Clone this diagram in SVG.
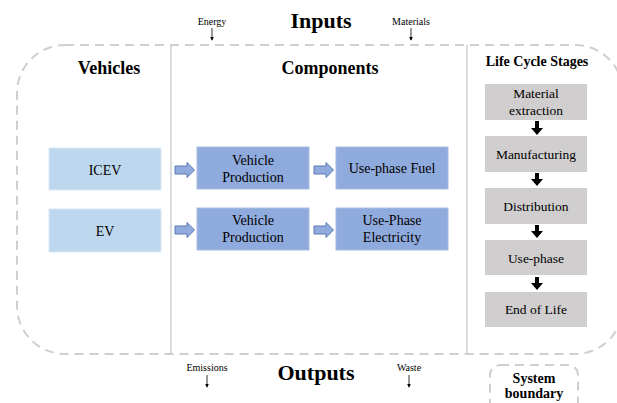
<svg xmlns="http://www.w3.org/2000/svg" width="617" height="403" viewBox="0 0 617 403">
<defs>
<style>
text{font-family:"Liberation Serif","Times New Roman",serif;fill:#000;text-anchor:middle}
.h1{font-size:22px;font-weight:bold}
.h2{font-size:18px;font-weight:bold}
.h3{font-size:14px;font-weight:bold}
.sm{font-size:10px}
.t{font-size:14px}
.t13{font-size:13.5px}
.veh{fill:#bdd7ee;stroke:#dbe7f5;stroke-width:1}
.comp{fill:#8faadc;stroke:#a9bde4;stroke-width:1}
.lcs{fill:#d0cece}
.barrow{fill:#8faadc;stroke:#5a78b0;stroke-width:1}
.karrow{fill:#000}
.thin{stroke:#000;stroke-width:0.8;fill:none}
.dash{fill:none;stroke:#cfcfcf;stroke-width:2;stroke-dasharray:9 6}
.div{stroke:#cfcfcf;stroke-width:1.5}
</style>
<marker id="ah" viewBox="0 0 6 6" refX="5" refY="3" markerWidth="5" markerHeight="5" orient="auto"><path d="M0,0 L6,3 L0,6 z" fill="#000"/></marker>
</defs>
<rect width="617" height="403" fill="#fff"/>

<g id="boundary">
<rect class="dash" x="17" y="45" width="606" height="309" rx="48" ry="48"/>
<line class="div" x1="171" y1="45" x2="171" y2="354"/>
<line class="div" x1="467" y1="45" x2="467" y2="354"/>
</g>

<g id="inputs">
<text class="h1" x="321" y="28">Inputs</text>
<text class="sm" x="212" y="25">Energy</text>
<text class="sm" x="411" y="25">Materials</text>
</g>
<g id="outputs">
<text class="h1" x="316" y="380">Outputs</text>
<text class="sm" x="207" y="371">Emissions</text>
<text class="sm" x="409" y="371">Waste</text>
</g>

<g id="headers">
<text class="h2" x="109" y="74">Vehicles</text>
<text class="h2" x="330" y="74">Components</text>
<text class="h3" x="537" y="66">Life Cycle Stages</text>
</g>

<g id="icev"><rect class="veh" x="49" y="148" width="112" height="42"/><text class="t" x="105" y="175">ICEV</text></g>
<g id="ev"><rect class="veh" x="49" y="209" width="112" height="43"/><text class="t" x="105" y="236">EV</text></g>
<g id="vp1"><rect class="comp" x="197" y="147" width="112" height="42"/><text class="t" x="253" y="165">Vehicle</text><text class="t" x="253" y="182">Production</text></g>
<g id="vp2"><rect class="comp" x="197" y="208" width="112" height="42"/><text class="t" x="253" y="225">Vehicle</text><text class="t" x="253" y="242">Production</text></g>
<g id="fuel"><rect class="comp" x="336" y="147" width="112" height="42"/><text class="t" x="392" y="173">Use-phase Fuel</text></g>
<g id="elec"><rect class="comp" x="336" y="208" width="112" height="42"/><text class="t" x="392" y="225">Use-Phase</text><text class="t" x="392" y="242">Electricity</text></g>

<g id="ls1"><rect class="lcs" x="485" y="84" width="102" height="36"/><text class="t13" x="536" y="98">Material</text><text class="t13" x="536" y="115">extraction</text></g>
<g id="ls2"><rect class="lcs" x="485" y="136" width="102" height="36"/><text class="t13" x="536" y="159">Manufacturing</text></g>
<g id="ls3"><rect class="lcs" x="485" y="188" width="102" height="36"/><text class="t13" x="536" y="211">Distribution</text></g>
<g id="ls4"><rect class="lcs" x="485" y="240" width="102" height="35"/><text class="t13" x="536" y="263">Use-phase</text></g>
<g id="ls5"><rect class="lcs" x="485" y="292" width="102" height="35"/><text class="t13" x="536" y="314">End of Life</text></g>

<g id="legend">
<rect class="dash" x="490" y="365" width="88" height="50" rx="10" ry="10"/>
<text class="h3" x="534" y="383">System</text>
<text class="h3" x="534" y="398">boundary</text>
</g>

<g id="connectors">
<path class="barrow" d="M175,166 H187 V162.5 L194.5,170 L187,177.5 V174 H175 Z"/>
<path class="barrow" d="M314,166 H326 V162.5 L333.5,170 L326,177.5 V174 H314 Z"/>
<path class="barrow" d="M175,226 H187 V222.5 L194.5,230 L187,237.5 V234 H175 Z"/>
<path class="barrow" d="M314,226 H326 V222.5 L333.5,230 L326,237.5 V234 H314 Z"/>
<path class="karrow" d="M535,121 H539 V128 H543 L537,135 L531,128 H535 Z"/>
<path class="karrow" d="M535,173 H539 V179 H543 L537,186 L531,179 H535 Z"/>
<path class="karrow" d="M535,225 H539 V231 H543 L537,238 L531,231 H535 Z"/>
<path class="karrow" d="M535,277 H539 V283 H543 L537,290 L531,283 H535 Z"/>
<line class="thin" x1="212" y1="28" x2="212" y2="40" marker-end="url(#ah)"/>
<line class="thin" x1="411" y1="28" x2="411" y2="40" marker-end="url(#ah)"/>
<line class="thin" x1="207" y1="375" x2="207" y2="387" marker-end="url(#ah)"/>
<line class="thin" x1="409" y1="375" x2="409" y2="387" marker-end="url(#ah)"/>
</g>
</svg>
